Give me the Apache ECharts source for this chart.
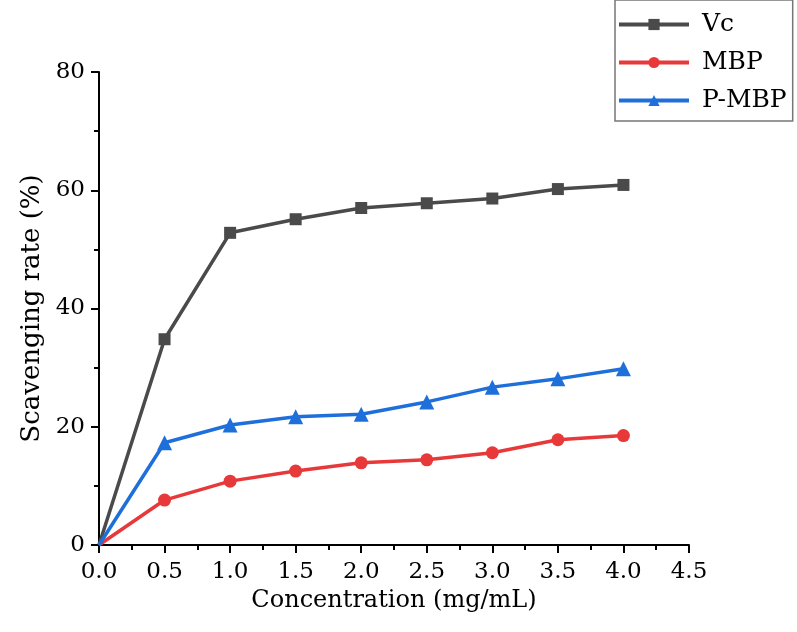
<!DOCTYPE html>
<html><head><meta charset="utf-8">
<script src="https://cdn.jsdelivr.net/npm/echarts@6/dist/echarts.min.js"></script>
<style>html,body{margin:0;padding:0;background:#fff}#c{width:797px;height:632px}</style>
</head><body><div id="c"></div>
<script>
const concentration = [0, 0.5, 1.0, 1.5, 2.0, 2.5, 3.0, 3.5, 4.0];
const vc   = [0, 34.8, 52.8, 55.1, 57.0, 57.8, 58.6, 60.2, 60.9];
const mbp  = [0, 7.6, 10.8, 12.5, 13.9, 14.4, 15.6, 17.8, 18.5];
const pmbp = [0, 17.3, 20.3, 21.7, 22.1, 24.2, 26.7, 28.1, 29.8];
const seriesNames = ['Vc', 'MBP', 'P-MBP'];
const xTickLabels = ['0.0','0.5','1.0','1.5','2.0','2.5','3.0','3.5','4.0','4.5'];

const FONT = 'DejaVu Serif';
function pts(arr){
  return concentration.map((x,i)=> i===0 ? {value:[x,arr[i]], symbolSize:0} : [x,arr[i]]);
}
const chart = echarts.init(document.getElementById('c'), null, {renderer:'canvas'});
chart.setOption({
  backgroundColor:'#fff',
  animation:false,
  grid:{left:99, right:108, top:72, bottom:87},
  legend:{
    left:615, top:0, orient:'vertical',
    data:seriesNames,
    itemWidth:70, itemHeight:14, itemGap:13,
    padding:[12, 6, 8, 2],
    borderColor:'#777', borderWidth:1.5,
    lineStyle:{width:4},
    textStyle:{fontFamily:FONT, fontSize:25, color:'#000', padding:[0,0,0,8]}
  },
  xAxis:{
    type:'value', min:0, max:4.5, interval:0.5,
    name:'Concentration (mg/mL)', nameLocation:'middle', nameGap:34,
    nameTextStyle:{fontFamily:FONT, fontSize:24, color:'#000'},
    axisLine:{lineStyle:{color:'#000', width:2}},
    axisTick:{inside:false, length:8, lineStyle:{color:'#000', width:2}},
    minorTick:{show:true, splitNumber:2, length:5, lineStyle:{color:'#000', width:2}},
    splitLine:{show:false},
    axisLabel:{fontFamily:FONT, fontSize:23, color:'#000', margin:16,
      formatter:(v)=>xTickLabels[Math.round(v/0.5)]}
  },
  yAxis:{
    type:'value', min:0, max:80, interval:20,
    name:'Scavenging rate (%)', nameLocation:'middle', nameGap:52,
    nameTextStyle:{fontFamily:FONT, fontSize:26, color:'#000'},
    axisLine:{show:true, lineStyle:{color:'#000', width:2}},
    axisTick:{show:true, inside:false, length:8, lineStyle:{color:'#000', width:2}},
    minorTick:{show:true, splitNumber:2, length:5, lineStyle:{color:'#000', width:2}},
    splitLine:{show:false},
    axisLabel:{fontFamily:FONT, fontSize:23, color:'#000', margin:14}
  },
  series:[
    {name:'Vc', type:'line', data:pts(vc), symbol:'rect', symbolSize:12,
     lineStyle:{color:'#4a4a4a', width:3.5}, itemStyle:{color:'#4a4a4a'}, clip:false},
    {name:'MBP', type:'line', data:pts(mbp), symbol:'circle', symbolSize:13,
     lineStyle:{color:'#e8393a', width:3.5}, itemStyle:{color:'#e8393a'}, clip:false},
    {name:'P-MBP', type:'line', data:pts(pmbp), symbol:'triangle', symbolSize:15,
     lineStyle:{color:'#1f6fdb', width:3.5}, itemStyle:{color:'#1f6fdb'}, clip:false}
  ]
});
</script></body></html>
